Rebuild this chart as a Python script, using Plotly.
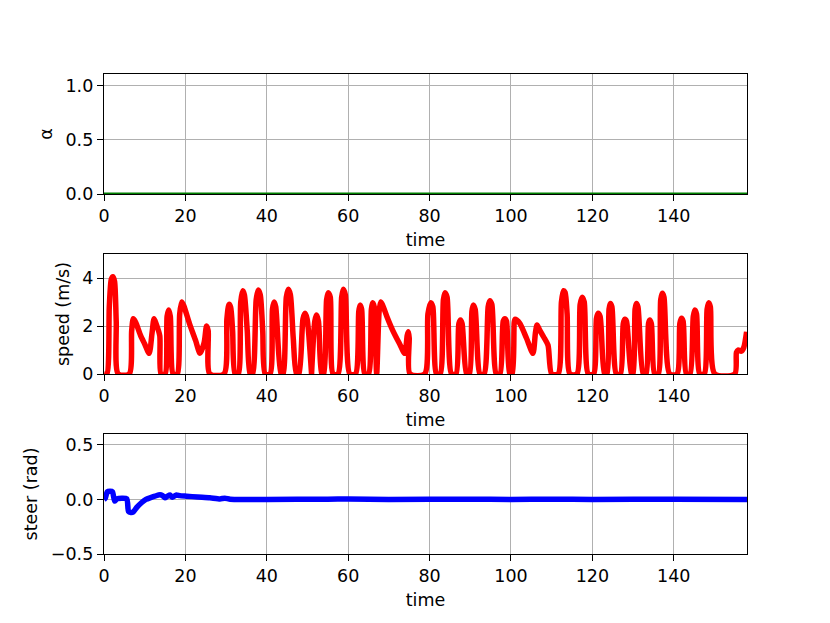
import plotly.graph_objects as go

# ---------------- data ----------------
alpha_time = [0.0, 158.0]
alpha_values = [0.0, 0.0]

speed_time = [
    0.0, 0.7, 1.3, 1.8, 2.2, 2.6, 3.0, 3.5,
    6.2, 6.8, 7.2, 7.8, 9.0, 10.0, 11.1, 11.8, 12.3, 12.8, 13.7, 14.0,
    15.0, 15.5, 15.9, 16.3, 17.0,
    18.0, 18.6, 19.1, 19.6, 21.0, 22.5, 23.6, 24.6, 25.2, 25.6, 26.0,
    29.5, 30.2, 30.7, 31.1, 31.6, 32.2,
    33.0, 33.6, 34.1, 34.5, 35.2, 35.9,
    36.5, 37.4, 37.9, 38.4, 39.0, 39.6,
    40.8, 41.4, 41.8, 42.2, 43.5,
    44.0, 44.8, 45.3, 45.8, 46.5, 47.3,
    47.9, 48.9, 49.4, 49.9, 51.0,
    51.0, 51.8, 52.2, 52.7, 53.5,
    54.0, 54.7, 55.1, 55.6, 56.3,
    57.5, 58.4, 58.8, 59.3, 60.4,
    61.8, 62.6, 62.9, 63.3, 64.1,
    65.0, 65.7, 66.0, 66.4, 67.0, 67.6, 68.0, 68.4, 69.5, 71.0, 72.5, 73.9, 74.5, 74.8, 75.0, 75.2,
    78.8, 79.6, 80.3, 80.8, 81.7,
    82.6, 83.4, 83.8, 84.3, 85.4,
    86.5, 87.2, 87.6, 88.0, 89.1,
    89.8, 90.4, 90.7, 91.2, 92.4,
    93.4, 94.4, 94.8, 95.3, 96.4,
    97.3, 98.1, 98.5, 98.9, 99.7,
    100.3, 100.8, 101.0, 101.4, 102.2, 103.8, 105.4, 106.0, 106.4, 107.0, 108.0, 109.1, 110.0,
    111.6, 112.4, 112.9, 113.3, 113.8, 114.5,
    116.2, 117.0, 117.5, 118.0, 119.0,
    120.3, 121.0, 121.4, 121.9, 123.0,
    123.6, 124.1, 124.4, 124.8, 125.9,
    126.9, 127.6, 128.0, 128.4, 129.6,
    130.0, 130.5, 130.8, 131.2, 132.5,
    133.2, 133.8, 134.1, 134.5, 135.3,
    136.2, 136.8, 137.2, 137.6, 139.0,
    140.8, 141.5, 141.9, 142.3, 143.1,
    144.0, 144.8, 145.2, 145.6, 146.4,
    147.5, 148.2, 148.6, 149.0, 150.1,
    155.0, 155.4, 155.8, 156.6, 157.2, 157.9,
]
speed_values = [
    0.0, 0.0, 2.8, 3.95, 4.05, 3.85, 2.2, 0.0,
    0.0, 1.8, 2.3, 2.15, 1.6, 1.25, 0.86, 1.7, 2.3, 2.1, 1.6, 0.0,
    0.0, 2.4, 2.67, 2.4, 0.0,
    0.0, 2.5, 3.0, 2.85, 2.1, 1.4, 0.86, 1.3, 2.0, 1.8, 0.0,
    0.0, 2.3, 2.9, 2.8, 1.8, 0.0,
    0.0, 3.0, 3.47, 3.3, 1.8, 0.0,
    0.0, 3.1, 3.5, 3.3, 1.8, 0.0,
    0.0, 2.7, 3.0, 2.8, 0.0,
    0.0, 3.2, 3.53, 3.3, 1.5, 0.0,
    0.0, 2.3, 2.53, 2.3, 0.0,
    0.0, 2.2, 2.46, 2.2, 0.0,
    0.0, 3.1, 3.39, 3.2, 0.0,
    0.0, 3.2, 3.53, 3.3, 0.0,
    0.0, 2.6, 2.87, 2.7, 0.0,
    0.0, 2.7, 2.97, 2.8, 0.0, 2.6, 3.0, 2.9, 2.4, 1.8, 1.3, 0.86, 1.6, 1.76, 1.5, 0.0,
    0.0, 2.5, 2.97, 2.8, 0.0,
    0.0, 3.1, 3.39, 3.2, 0.0,
    0.0, 2.1, 2.25, 2.1, 0.0,
    0.0, 2.6, 2.87, 2.7, 0.0,
    0.0, 2.8, 3.05, 2.9, 0.0,
    0.0, 2.2, 2.3, 2.2, 0.0,
    0.0, 2.15, 2.28, 2.25, 2.1, 1.5, 0.86, 1.7, 2.04, 1.85, 1.55, 1.2, 0.0,
    0.0, 3.0, 3.47, 3.4, 2.5, 0.0,
    0.0, 2.9, 3.2, 3.0, 0.0,
    0.0, 2.3, 2.53, 2.4, 0.0,
    0.0, 2.7, 2.94, 2.8, 0.0,
    0.0, 2.1, 2.28, 2.2, 0.0,
    0.0, 2.7, 2.94, 2.8, 0.0,
    0.0, 2.1, 2.25, 2.1, 0.0,
    0.0, 3.1, 3.36, 3.2, 0.0,
    0.0, 2.1, 2.32, 2.2, 0.0,
    0.0, 2.4, 2.67, 2.5, 0.0,
    0.0, 2.7, 2.97, 2.8, 0.0,
    0.0, 0.9, 1.0, 0.95, 1.1, 1.76,
]

steer_time = [
    0.0, 0.3, 0.8, 1.5, 2.1, 2.6, 3.2, 5.6, 6.0, 6.6, 7.2, 8.0, 9.2, 10.3,
    11.3, 12.5, 13.75, 14.4, 15.0, 15.6, 16.2, 16.8, 17.8, 18.6, 20.3,
    23.0, 26.0, 28.5, 29.7, 31.0, 40.0, 55.0, 60.0, 70.0, 90.0, 100.0,
    110.0, 120.0, 140.0, 158.0,
]
steer_values = [
    0.0, 0.01, 0.07, 0.075, 0.07, -0.015, 0.006, 0.006, -0.11, -0.12, -0.115, -0.075, -0.03, 0.0,
    0.015, 0.03, 0.043, 0.035, 0.015, 0.03, 0.04, 0.02, 0.042, 0.035, 0.03,
    0.022, 0.015, 0.005, 0.012, 0.002, 0.0, 0.002, 0.004, 0.0, 0.002, 0.0,
    0.002, 0.0, 0.002, 0.0,
]

x_ticks = [0, 20, 40, 60, 80, 100, 120, 140]

# ---------------- figure ----------------
FONT = dict(family="DejaVu Sans", size=17.5, color="black")

fig = go.Figure()
fig.add_trace(go.Scatter(x=alpha_time, y=alpha_values, mode="lines",
                         line=dict(color="#008000", width=3),
                         xaxis="x", yaxis="y", showlegend=False))
fig.add_trace(go.Scatter(x=speed_time, y=speed_values, mode="lines",
                         line=dict(color="#ff0000", width=5.5, shape="spline", smoothing=0.7),
                         xaxis="x2", yaxis="y2", showlegend=False))
fig.add_trace(go.Scatter(x=steer_time, y=steer_values, mode="lines",
                         line=dict(color="#0000ff", width=5.5, shape="spline", smoothing=0.5),
                         xaxis="x3", yaxis="y3", showlegend=False))

common = dict(showline=True, mirror=True, linecolor="black", linewidth=1.4,
              ticks="outside", ticklen=6, tickcolor="black", tickwidth=1.4,
              showgrid=True, gridcolor="#b0b0b0", gridwidth=1.4,
              zeroline=False, tickfont=FONT)

xcommon = dict(common, range=[0, 158], tickvals=x_ticks,
               title=dict(text="time", font=FONT, standoff=8))

fig.update_layout(
    width=830, height=623,
    margin=dict(l=96, r=91, t=66, b=77),
    paper_bgcolor="white", plot_bgcolor="white",
    font=FONT,
    xaxis=dict(xcommon, domain=[0, 1], anchor="y"),
    yaxis=dict(common, domain=[0.75, 1.0], anchor="x", range=[0, 1.11],
               tickvals=[0.0, 0.5, 1.0], ticktext=["0.0", "0.5", "1.0"],
               title=dict(text="α", font=FONT, standoff=8)),
    xaxis2=dict(xcommon, domain=[0, 1], anchor="y2"),
    yaxis2=dict(common, domain=[0.375, 0.625], anchor="x2", range=[0, 5],
                tickvals=[0, 2, 4],
                title=dict(text="speed (m/s)", font=FONT, standoff=8)),
    xaxis3=dict(xcommon, domain=[0, 1], anchor="y3"),
    yaxis3=dict(common, domain=[0.0, 0.25], anchor="x3", range=[-0.5, 0.6],
                tickvals=[-0.5, 0.0, 0.5], ticktext=["\u22120.5", "0.0", "0.5"],
                title=dict(text="steer (rad)", font=FONT, standoff=8)),
)

fig.write_html("out.html")
